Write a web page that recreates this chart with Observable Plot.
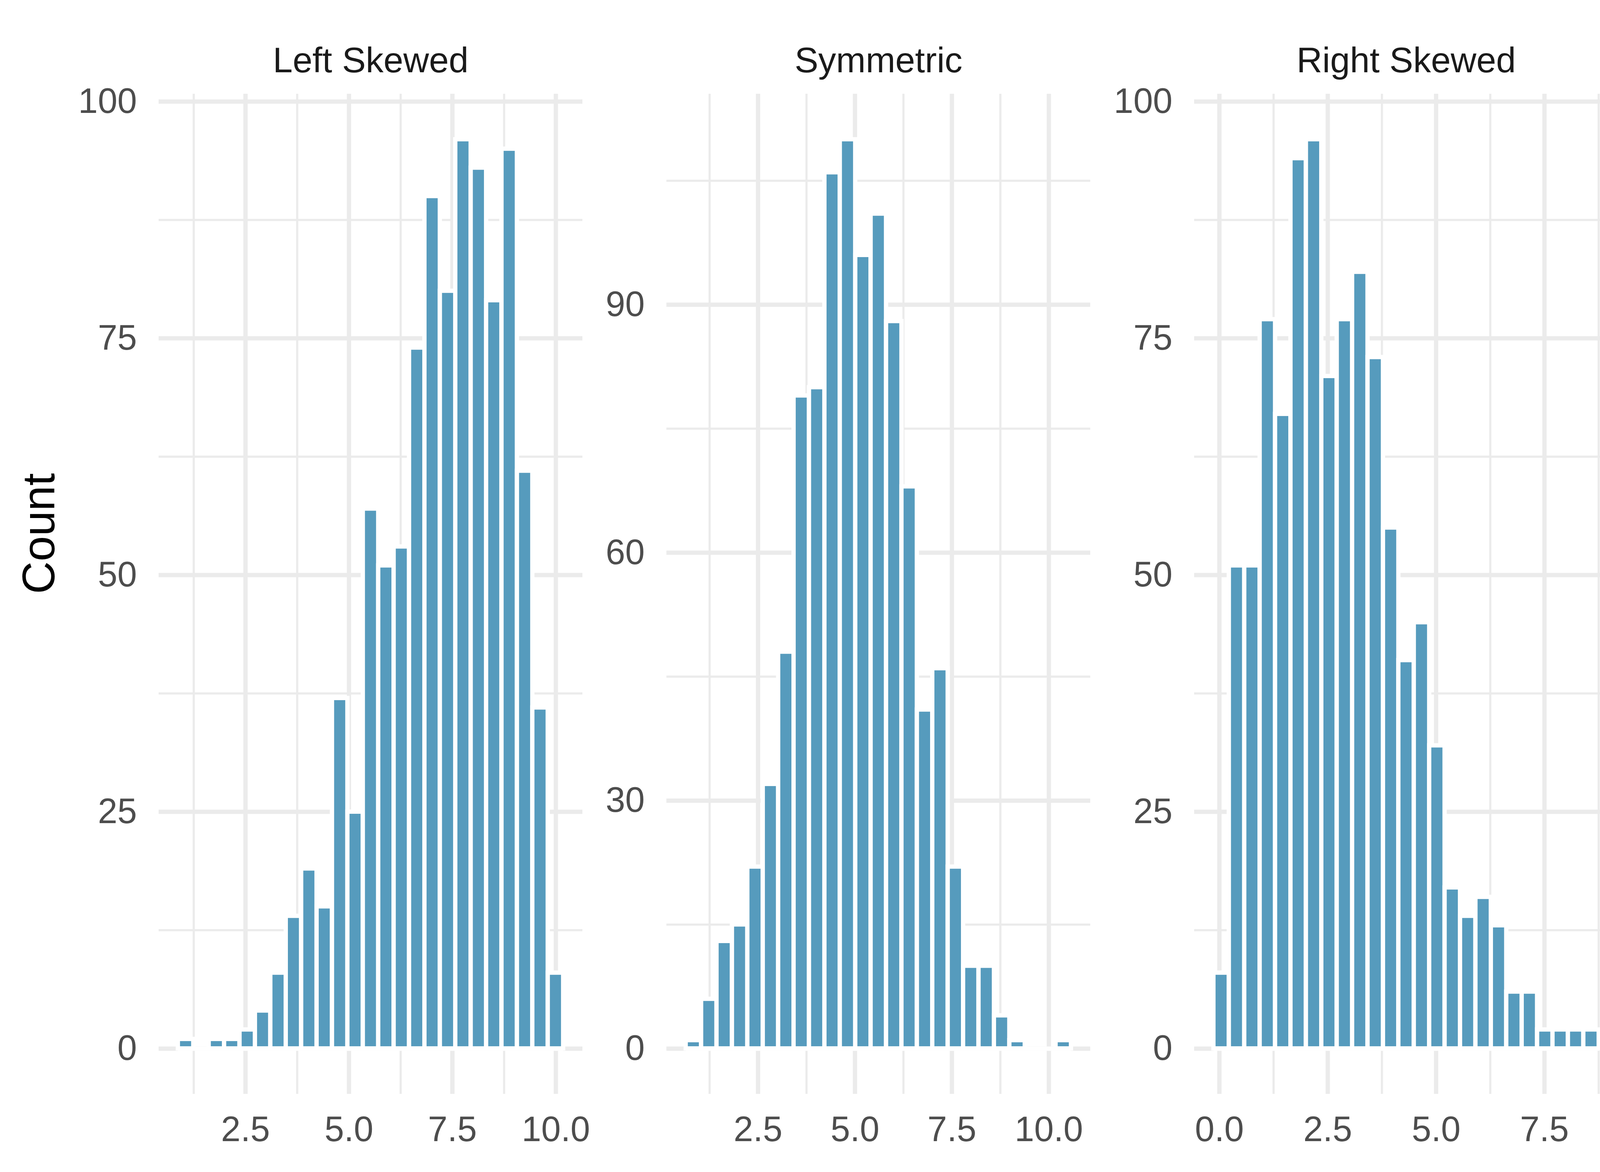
<!DOCTYPE html>
<html>
<head>
<meta charset="utf-8">
<script src="https://cdn.jsdelivr.net/npm/d3@7"></script>
<script src="https://cdn.jsdelivr.net/npm/@observablehq/plot@0.6"></script>
<style>
html, body { margin: 0; padding: 0; background: #ffffff; }
#chart { position: relative; width: 4200px; height: 3000px; background: #ffffff; font-family: "Liberation Sans", Arial, sans-serif; }
#chart svg { position: absolute; top: 0; }
</style>
</head>
<body>
<div id="chart"></div>
<script>
// ---- data ----
const panelTitles = ["Left Skewed", "Symmetric", "Right Skewed"];
const yAxisLabel = "Count";

const leftCenters = [1.057, 1.429, 1.802, 2.174, 2.547, 2.919, 3.291, 3.664, 4.036, 4.409, 4.781, 5.153, 5.526, 5.898, 6.271, 6.643, 7.015, 7.388, 7.760, 8.133, 8.505, 8.877, 9.250, 9.622, 9.995];
const leftCounts  = [1, 0, 1, 1, 2, 4, 8, 14, 19, 15, 37, 25, 57, 51, 53, 74, 90, 80, 96, 93, 79, 95, 61, 36, 8];

const symCenters = [0.837, 1.235, 1.632, 2.030, 2.427, 2.825, 3.222, 3.620, 4.017, 4.415, 4.812, 5.210, 5.607, 6.005, 6.402, 6.800, 7.197, 7.595, 7.992, 8.390, 8.787, 9.185, 9.582, 9.980, 10.377];
const symCounts  = [1, 6, 13, 15, 22, 32, 48, 79, 80, 106, 110, 96, 101, 88, 68, 41, 46, 22, 10, 10, 4, 1, 0, 0, 1];

const rightCenters = [0.044, 0.400, 0.755, 1.111, 1.466, 1.822, 2.178, 2.533, 2.889, 3.244, 3.600, 3.956, 4.311, 4.667, 5.022, 5.378, 5.734, 6.089, 6.445, 6.800, 7.156, 7.512, 7.867, 8.223, 8.578];
const rightCounts  = [8, 51, 51, 77, 67, 94, 96, 71, 77, 82, 73, 55, 41, 45, 32, 17, 14, 16, 13, 6, 6, 2, 2, 2, 2];

const binWidths = [0.3724, 0.3975, 0.3556];

const xTickValues = [[2.5, 5, 7.5, 10], [2.5, 5, 7.5, 10], [0, 2.5, 5, 7.5]];
const yTickValues = [[0, 25, 50, 75, 100], [0, 30, 60, 90], [0, 25, 50, 75, 100]];

// ---- layout / style ----
const panelLayout = [
  {left: 0,    width: 1560, marginLeft: 406, marginRight: 69},
  {left: 1560, width: 1310, marginLeft: 146, marginRight: 79},
  {left: 2870, width: 1330, marginLeft: 187, marginRight: 58}
];
const barFill = "#569BBD";
const gridColor = "#EBEBEB";
const fontFamily = "'Liberation Sans', Arial, Helvetica, sans-serif";

const series = [
  {centers: leftCenters, counts: leftCounts},
  {centers: symCenters, counts: symCounts},
  {centers: rightCenters, counts: rightCounts}
];

function minorTicks(major, domain) {
  const step = major[1] - major[0];
  const out = [];
  const ext = [major[0] - step, ...major, major[major.length - 1] + step];
  for (let i = 0; i < ext.length - 1; i++) {
    const m = (ext[i] + ext[i + 1]) / 2;
    if (m >= domain[0] && m <= domain[1]) out.push(m);
  }
  return out;
}

const chart = document.getElementById("chart");

series.forEach((s, i) => {
  const w = binWidths[i];
  const rows = s.centers.map((c, j) => ({x1: c - w / 2, x2: c + w / 2, count: s.counts[j]}));
  const lo = d3.min(rows, d => d.x1), hi = d3.max(rows, d => d.x2);
  const padX = (hi - lo) * 0.05;
  const xDomain = [lo - padX, hi + padX];
  const maxY = d3.max(rows, d => d.count);
  const yDomain = [-0.05 * maxY, 1.05 * maxY];
  const xMinor = minorTicks(xTickValues[i], xDomain);
  const yMinor = minorTicks(yTickValues[i], yDomain);
  const L = panelLayout[i];

  const marks = [
    Plot.gridY(yMinor, {stroke: gridColor, strokeOpacity: 1, strokeWidth: 5.5}),
    Plot.gridX(xMinor, {stroke: gridColor, strokeOpacity: 1, strokeWidth: 5.5}),
    Plot.gridY(yTickValues[i], {stroke: gridColor, strokeOpacity: 1, strokeWidth: 11}),
    Plot.gridX(xTickValues[i], {stroke: gridColor, strokeOpacity: 1, strokeWidth: 11}),
    Plot.ruleY([0], {x1: lo, x2: hi, stroke: "white", strokeWidth: 11}),
    Plot.rectY(rows, {x1: "x1", x2: "x2", y: "count", fill: barFill, stroke: "white", strokeWidth: 11}),
    Plot.axisY(yTickValues[i], {tickSize: 0, tickPadding: 56, fontSize: 90, fill: "#4D4D4D", label: null}),
    Plot.axisX(xTickValues[i], {tickSize: 0, tickPadding: 57, fontSize: 90, fill: "#4D4D4D", label: null, tickFormat: d3.format(".1f")}),
    Plot.text([panelTitles[i]], {frameAnchor: "top", dy: -85, lineAnchor: "middle", fontSize: 91, fill: "#1A1A1A"})
  ];
  if (i === 0) {
    marks.push(Plot.text([yAxisLabel], {frameAnchor: "left", dx: -305, rotate: -90, lineAnchor: "middle", fontSize: 116, fill: "#000000"}));
  }

  const svg = Plot.plot({
    width: L.width,
    height: 3000,
    marginLeft: L.marginLeft,
    marginRight: L.marginRight,
    marginTop: 240,
    marginBottom: 200,
    x: {domain: xDomain},
    y: {domain: yDomain},
    style: {fontFamily: fontFamily, fontSize: "90px", color: "#4D4D4D", background: "transparent", overflow: "visible"},
    marks
  });
  svg.style.left = L.left + "px";
  svg.style.maxWidth = "none";
  chart.appendChild(svg);
});
</script>
</body>
</html>
